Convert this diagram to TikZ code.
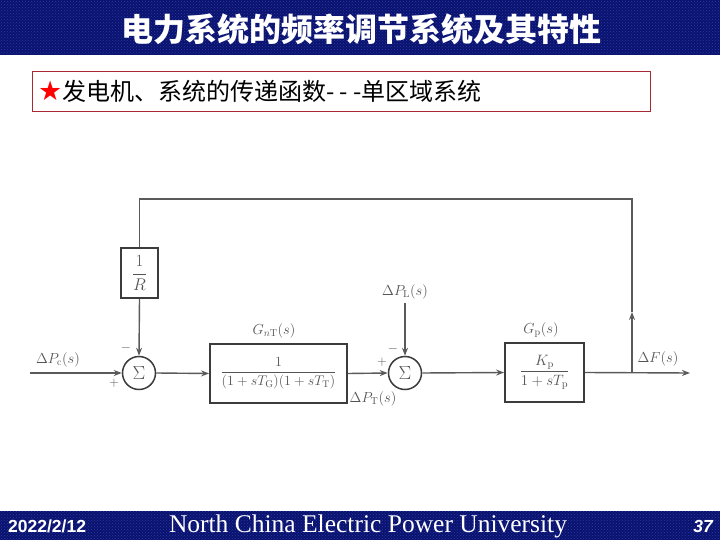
\RequirePackage{fix-cm}
\documentclass[tikz,border=0pt]{standalone}
\usepackage{amsmath}
\usepackage{fontspec}
\usetikzlibrary{arrows.meta,patterns}
\newfontfamily\cjk{Noto Sans CJK SC}
\newfontfamily\djv{DejaVu Sans}
\newfontfamily\lsans{Liberation Sans}
\newfontfamily\lserif{Liberation Serif}
\definecolor{navy}{RGB}{10,18,110}
\definecolor{navylight}{RGB}{40,60,165}
\definecolor{boxred}{RGB}{170,40,50}
\definecolor{ln}{RGB}{90,90,90}
\definecolor{bx}{RGB}{60,60,60}
\definecolor{tx}{RGB}{85,85,85}
\tikzset{
  sumnode/.style={circle,draw=bx,line width=1.5pt,minimum size=33pt,inner sep=0pt,text=tx,font=\fontsize{19}{19}\selectfont},
  blk/.style={rectangle,draw=bx,line width=1.8pt,inner sep=0pt,text=tx,font=\fontsize{14}{16}\selectfont},
  lbl/.style={text=tx,inner sep=0pt,font=\fontsize{14.5}{14.5}\selectfont},
  sgn/.style={text=tx,inner sep=0pt,font=\fontsize{13}{13}\selectfont},
  wire/.style={draw=ln,line width=1.4pt},
  arr/.style={wire,-{Stealth[length=8pt,width=6pt]}}
}
\begin{document}
\begin{tikzpicture}[x=1pt,y=-1pt]
\useasboundingbox (0,0) rectangle (720,540);
\fill[white] (0,0) rectangle (720,540);
% banners
\fill[navy] (0,0) rectangle (720,55);
\fill[pattern=crosshatch dots,pattern color=navylight] (0,0) rectangle (720,55);
\fill[navy] (0,511) rectangle (720,540);
\fill[pattern=crosshatch dots,pattern color=navylight] (0,511) rectangle (720,540);
\node[text=white,inner sep=0pt] (title) at (361,29) {\cjk\bfseries\fontsize{32}{32}\selectfont 电力系统的频率调节系统及其特性};
% subtitle box
\draw[boxred,line width=0.8pt] (32,71) rectangle (650,111);
\node[anchor=west,inner sep=0pt] (star) at (38,91) {\djv\color{red}\fontsize{27}{27}\selectfont ★};
\node[anchor=west,inner sep=0pt] (sub) at (62,91) {\cjk\fontsize{24}{24}\selectfont 发电机、系统的传递函数- - -单区域系统};
% footer
\node[anchor=west,text=white,inner sep=0pt] (date) at (8,526) {\lsans\bfseries\fontsize{17.5}{17.5}\selectfont 2022/2/12};
\node[text=white,inner sep=0pt] (univ) at (368,526) {\lserif\fontsize{25.5}{25.5}\selectfont North China Electric Power University};
\node[anchor=east,text=white,inner sep=0pt] (page) at (713,526) {\lsans\bfseries\itshape\fontsize{17.5}{17.5}\selectfont 37};
% diagram
\node[sumnode] (s1) at (139,373) {$\Sigma$};
\node[sumnode] (s2) at (405,373) {$\Sigma$};
\node[blk,minimum width=37pt,minimum height=50pt,font=\fontsize{17}{19}\selectfont] (rbox) at (139.5,273) {$\dfrac{1}{R}$};
\node[blk,minimum width=137pt,minimum height=59pt] (gbox) at (278.5,373.5) {$\dfrac{1}{(1+sT_{\mathrm{G}})(1+sT_{\mathrm{T}})}$};
\node[blk,minimum width=79pt,minimum height=59pt,font=\fontsize{15}{17}\selectfont] (pbox) at (544.5,372.5) {$\dfrac{K_{\mathrm{p}}}{1+sT_{\mathrm{p}}}$};
\coordinate (in) at (30,373);
\coordinate (out) at (690,373);
\coordinate (br) at (632,373);
\coordinate (up) at (632,312);
\coordinate (tc) at (632,199);
\coordinate (pl) at (405,303);
\draw[arr] (in) -- (s1.west);
\draw[arr] (s1.east) -- (gbox.west);
\draw[arr] (gbox.east) -- (s2.west);
\draw[arr] (s2.east) -- (pbox.west);
\draw[arr] (pbox.east) -- (out);
\draw[arr] (br) -- (up);
\draw[wire] (up) -- (tc) -| (rbox.north);
\draw[arr] (rbox.south) -- (s1.north);
\draw[arr] (pl) -- (s2.north);
% labels
\node[lbl] (lpc) at (58,360) {$\Delta P_{\mathrm{c}}(s)$};
\node[sgn] (p1) at (114,383) {$+$};
\node[sgn] (m1) at (126,348) {$-$};
\node[lbl] (lgt) at (274,331) {$G_{n\mathrm{T}}(s)$};
\node[lbl] (lpt) at (373,399) {$\Delta P_{\mathrm{T}}(s)$};
\node[sgn] (p2) at (382,362) {$+$};
\node[sgn] (m2) at (393,349) {$-$};
\node[lbl] (lpl) at (405,292) {$\Delta P_{\mathrm{L}}(s)$};
\node[lbl] (lgp) at (541,330) {$G_{\mathrm{p}}(s)$};
\node[lbl] (lf) at (658,359) {$\Delta F(s)$};
\end{tikzpicture}
\end{document}
